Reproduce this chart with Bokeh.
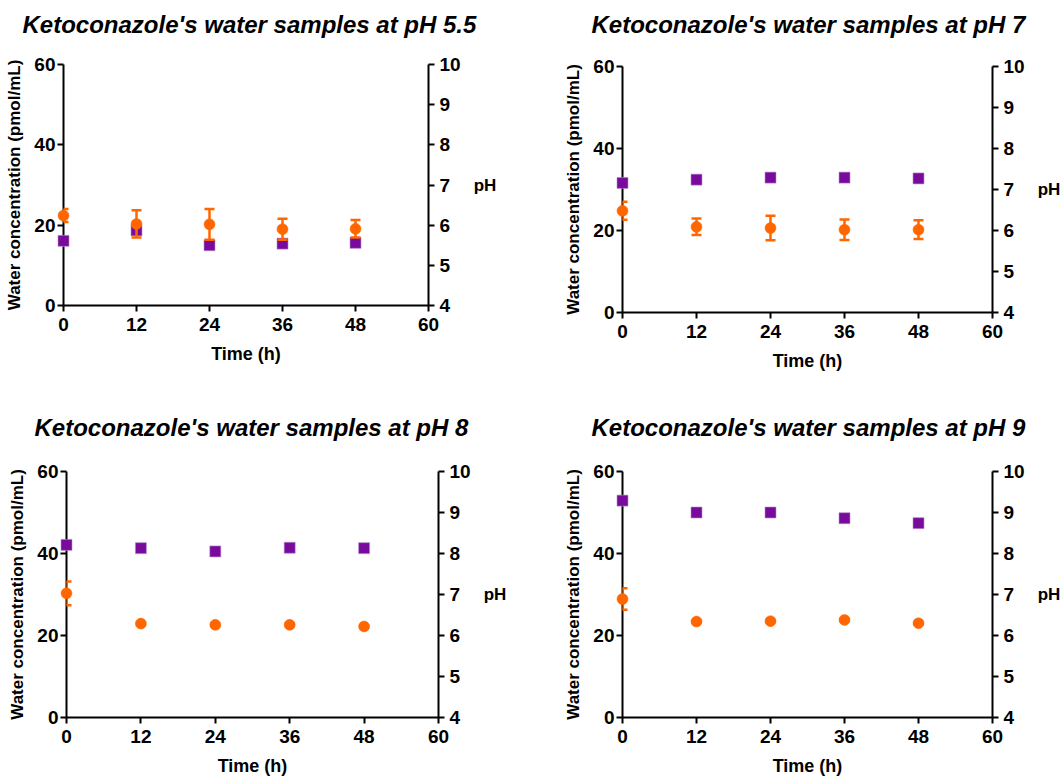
from bokeh.plotting import figure
from bokeh.models import (Range1d, LinearAxis, Whisker, TeeHead, ColumnDataSource,
                          FixedTicker, Title)
from bokeh.layouts import column, row
from bokeh.embed import file_html
from bokeh.resources import INLINE

# ---------------- data ----------------
time_h = [0, 12, 24, 36, 48]

titles = [
    "Ketoconazole's water samples at pH 5.5",
    "Ketoconazole's water samples at pH 7",
    "Ketoconazole's water samples at pH 8",
    "Ketoconazole's water samples at pH 9",
]

conc_ph55 = [22.4, 20.3, 20.2, 19.0, 19.1]
err_ph55 = [1.6, 3.4, 3.8, 2.6, 2.2]
ph_ph55 = [5.61, 5.87, 5.50, 5.54, 5.56]

conc_ph7 = [24.8, 20.9, 20.6, 20.2, 20.2]
err_ph7 = [2.2, 2.0, 3.0, 2.5, 2.3]
ph_ph7 = [7.16, 7.24, 7.29, 7.29, 7.27]

conc_ph8 = [30.3, 22.9, 22.6, 22.6, 22.2]
err_ph8 = [2.9, 0.3, 0.3, 0.3, 0.3]
ph_ph8 = [8.21, 8.13, 8.05, 8.14, 8.13]

conc_ph9 = [28.9, 23.4, 23.5, 23.8, 23.0]
err_ph9 = [2.6, 0.3, 0.3, 0.3, 0.3]
ph_ph9 = [9.29, 9.00, 9.00, 8.86, 8.74]

x_ticks = [0, 12, 24, 36, 48, 60]
conc_ticks = [0, 20, 40, 60]
ph_ticks = [4, 5, 6, 7, 8, 9, 10]

FONT = "Liberation Sans"
ORANGE = "#ff6600"
PURPLE = "#780a9c"


def style_axis(ax, label_size):
    ax.axis_line_width = 2
    ax.axis_line_color = "black"
    ax.major_tick_line_width = 2
    ax.major_tick_line_color = "black"
    ax.major_tick_out = 6
    ax.major_tick_in = 0
    ax.minor_tick_line_color = None
    ax.major_label_text_font = FONT
    ax.major_label_text_font_style = "bold"
    ax.major_label_text_font_size = "19px"
    ax.major_label_text_color = "black"
    ax.axis_label_text_font = FONT
    ax.axis_label_text_font_style = "bold"
    ax.axis_label_text_font_size = label_size
    ax.axis_label_text_color = "black"


def panel(title, conc, err, ph, width, height, bl, br, bt, bb, t_off, gap):
    p = figure(width=width, height=height, x_range=Range1d(0, 60), y_range=Range1d(0, 60),
               output_backend="svg", toolbar_location=None,
               min_border_left=bl, min_border_right=br, min_border_top=bt, min_border_bottom=bb,
               x_axis_label="Time (h)", y_axis_label="Water concentration (pmol/mL)")
    p.extra_y_ranges = {"ph": Range1d(4, 10)}
    p.outline_line_color = None
    p.xgrid.visible = False
    p.ygrid.visible = False
    p.background_fill_color = "white"
    p.border_fill_color = "white"

    p.xaxis.ticker = FixedTicker(ticks=x_ticks)
    p.yaxis.ticker = FixedTicker(ticks=conc_ticks)
    style_axis(p.xaxis[0], "18px")
    style_axis(p.yaxis[0], "17px")
    p.xaxis.axis_label_standoff = 10
    p.xaxis.major_label_standoff = 6
    p.yaxis.axis_label_standoff = 7
    p.yaxis.major_label_standoff = 2

    rax = LinearAxis(y_range_name="ph", axis_label="pH", ticker=FixedTicker(ticks=ph_ticks))
    style_axis(rax, "17px")
    rax.axis_label_orientation = "horizontal"
    rax.major_label_standoff = 5
    rax.axis_label_standoff = 10
    p.add_layout(rax, "right")

    src = ColumnDataSource(dict(
        t=time_h, conc=conc, ph=ph,
        upper=[c + e for c, e in zip(conc, err)],
        lower=[c - e for c, e in zip(conc, err)],
    ))

    p.scatter("t", "ph", source=src, y_range_name="ph", marker="square", size=11,
              fill_color=PURPLE, line_color="#b98bd0", line_width=0.6, level="overlay")

    wh = Whisker(base="t", upper="upper", lower="lower", source=src,
                 line_color=ORANGE, line_width=2.5, level="overlay",
                 upper_head=TeeHead(size=10, line_color=ORANGE, line_width=2.5),
                 lower_head=TeeHead(size=10, line_color=ORANGE, line_width=2.5))
    p.add_layout(wh)

    p.scatter("t", "conc", source=src, marker="circle", size=11,
              fill_color=ORANGE, line_color=ORANGE, line_width=0.5, level="overlay")

    # blank spacer between the frame and the title
    p.add_layout(Title(text=" ", text_font_size="1px", standoff=gap), "above")
    p.add_layout(Title(text=title, align="left", offset=t_off, standoff=4,
                       text_font=FONT, text_font_style="bold italic",
                       text_font_size="24px", text_color="black"), "above")
    return p


p1 = panel(titles[0], conc_ph55, err_ph55, ph_ph55, 531, 389, 63, 103, 64, 84, -41, 22)
p2 = panel(titles[1], conc_ph7, err_ph7, ph_ph7, 532, 389, 91, 68, 66, 77, -31, 24)
p3 = panel(titles[2], conc_ph8, err_ph8, ph_ph8, 531, 389, 66, 93, 82, 61, -32, 26)
p4 = panel(titles[3], conc_ph9, err_ph9, ph_ph9, 532, 389, 91, 69, 82, 61, -31, 26)

layout = column(row(column(p1), column(p2)), row(column(p3), column(p4)))

open("out.html", "w").write(file_html(layout, INLINE))
